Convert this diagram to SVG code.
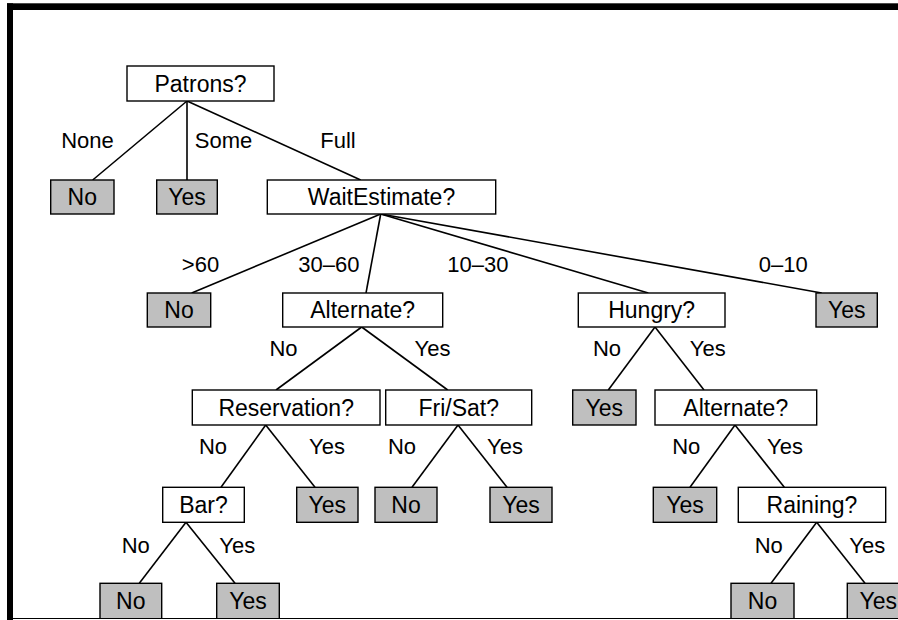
<svg xmlns="http://www.w3.org/2000/svg" width="898" height="620" viewBox="0 0 898 620">
<style>
.box{fill:#ffffff;stroke:#000;stroke-width:1.4}
.leaf{fill:#bfbfbf;stroke:#000;stroke-width:1.4}
.nt{font-family:"Liberation Sans",Arial,sans-serif;font-size:23px;text-anchor:middle;fill:#000}
.lb{font-family:"Liberation Sans",Arial,sans-serif;font-size:22px;text-anchor:middle;fill:#000}
.edges line{stroke:#000;stroke-width:1.6}
</style>
<rect x="0" y="0" width="898" height="620" fill="#ffffff"/>
<g id="frame">
<rect x="7" y="3.3" width="891" height="6.7" fill="#000"/>
<rect x="7" y="3.3" width="6" height="616.7" fill="#000"/>
</g>
<g class="edges" id="connectors">
<line x1="187" y1="101" x2="92.7" y2="180"/>
<line x1="187" y1="101" x2="187" y2="180"/>
<line x1="187" y1="101" x2="360.7" y2="180"/>
<line x1="380.7" y1="214" x2="191.7" y2="293"/>
<line x1="380.7" y1="214" x2="366" y2="293"/>
<line x1="380.7" y1="214" x2="648.3" y2="293"/>
<line x1="380.7" y1="214" x2="821.7" y2="293"/>
<line x1="361.7" y1="327" x2="276" y2="390"/>
<line x1="361.7" y1="327" x2="447.7" y2="390"/>
<line x1="655" y1="327" x2="608.3" y2="390"/>
<line x1="655" y1="327" x2="704" y2="390"/>
<line x1="265.7" y1="425" x2="221" y2="487.3"/>
<line x1="265.7" y1="425" x2="315" y2="487.3"/>
<line x1="458" y1="425" x2="412" y2="487.3"/>
<line x1="458" y1="425" x2="507" y2="487.3"/>
<line x1="735" y1="425" x2="690" y2="487.3"/>
<line x1="735" y1="425" x2="784.3" y2="487.3"/>
<line x1="186" y1="522.3" x2="139.3" y2="583.3"/>
<line x1="186" y1="522.3" x2="235" y2="583.3"/>
<line x1="816.7" y1="522.3" x2="771" y2="583.3"/>
<line x1="816.7" y1="522.3" x2="865" y2="583.3"/>
</g>
<g id="edge-labels">
<text class="lb" x="87.5" y="147.7">None</text>
<text class="lb" x="223.5" y="147.7">Some</text>
<text class="lb" x="338" y="147.7">Full</text>
<text class="lb" x="200.5" y="272.3">&gt;60</text>
<text class="lb" x="328.8" y="272.3">30–60</text>
<text class="lb" x="477.8" y="272.3">10–30</text>
<text class="lb" x="783.3" y="272.3">0–10</text>
<text class="lb" x="283.5" y="356">No</text>
<text class="lb" x="432.5" y="356">Yes</text>
<text class="lb" x="607" y="356">No</text>
<text class="lb" x="707.7" y="356">Yes</text>
<text class="lb" x="213" y="454.3">No</text>
<text class="lb" x="327" y="454.3">Yes</text>
<text class="lb" x="402" y="454.3">No</text>
<text class="lb" x="505" y="454.3">Yes</text>
<text class="lb" x="686.3" y="454.3">No</text>
<text class="lb" x="785" y="454.3">Yes</text>
<text class="lb" x="135.8" y="553.3">No</text>
<text class="lb" x="237.2" y="553.3">Yes</text>
<text class="lb" x="768.8" y="553.3">No</text>
<text class="lb" x="867.2" y="553.3">Yes</text>
</g>
<g id="patrons"><rect class="box" x="127" y="66" width="147" height="35"/><text class="nt" x="200.5" y="92">Patrons?</text></g>
<g id="leaf-none"><rect class="leaf" x="50.7" y="180" width="63.3" height="34"/><text class="nt" x="82.3" y="205">No</text></g>
<g id="leaf-some"><rect class="leaf" x="156.7" y="180" width="60.6" height="34"/><text class="nt" x="187" y="205">Yes</text></g>
<g id="waitestimate"><rect class="box" x="267.3" y="180" width="228.4" height="34"/><text class="nt" x="381.5" y="205">WaitEstimate?</text></g>
<g id="leaf-gt60"><rect class="leaf" x="147.3" y="293" width="63.4" height="34"/><text class="nt" x="179" y="318">No</text></g>
<g id="alternate1"><rect class="box" x="282.7" y="293" width="160" height="34"/><text class="nt" x="362.7" y="318">Alternate?</text></g>
<g id="hungry"><rect class="box" x="578.3" y="293" width="146.7" height="34"/><text class="nt" x="651.7" y="318">Hungry?</text></g>
<g id="leaf-0-10"><rect class="leaf" x="816" y="293" width="61.3" height="34"/><text class="nt" x="846.7" y="318">Yes</text></g>
<g id="reservation"><rect class="box" x="192.3" y="390" width="187.7" height="35"/><text class="nt" x="286.2" y="415.5">Reservation?</text></g>
<g id="frisat"><rect class="box" x="385.7" y="390" width="146" height="35"/><text class="nt" x="458.7" y="415.5">Fri/Sat?</text></g>
<g id="leaf-hungry-no"><rect class="leaf" x="572.7" y="390" width="63.3" height="35"/><text class="nt" x="604.3" y="415.5">Yes</text></g>
<g id="alternate2"><rect class="box" x="655" y="390" width="161.7" height="35"/><text class="nt" x="735.8" y="415.5">Alternate?</text></g>
<g id="bar"><rect class="box" x="162.7" y="487.3" width="81.6" height="35"/><text class="nt" x="203.5" y="512.5">Bar?</text></g>
<g id="leaf-res-yes"><rect class="leaf" x="296.7" y="487.3" width="61.3" height="35"/><text class="nt" x="327.3" y="512.5">Yes</text></g>
<g id="leaf-fri-no"><rect class="leaf" x="375" y="487.3" width="62" height="35"/><text class="nt" x="406" y="512.5">No</text></g>
<g id="leaf-fri-yes"><rect class="leaf" x="490" y="487.3" width="62" height="35"/><text class="nt" x="521" y="512.5">Yes</text></g>
<g id="leaf-alt2-no"><rect class="leaf" x="653.3" y="487.3" width="63.4" height="35"/><text class="nt" x="685" y="512.5">Yes</text></g>
<g id="raining"><rect class="box" x="738.3" y="487.3" width="147.4" height="35"/><text class="nt" x="812" y="512.5">Raining?</text></g>
<g id="leaf-bar-no"><rect class="leaf" x="100" y="583.3" width="61.7" height="36"/><text class="nt" x="130.8" y="608.5">No</text></g>
<g id="leaf-bar-yes"><rect class="leaf" x="216.7" y="583.3" width="62.6" height="36"/><text class="nt" x="248" y="608.5">Yes</text></g>
<g id="leaf-rain-no"><rect class="leaf" x="731" y="583.3" width="63" height="36"/><text class="nt" x="762.5" y="608.5">No</text></g>
<g id="leaf-rain-yes"><rect class="leaf" x="847.3" y="583.3" width="62" height="36"/><text class="nt" x="878.3" y="608.5">Yes</text></g>
<g id="bottom-edge"><rect x="13" y="618" width="885" height="2" fill="#ffffff"/><line x1="13" y1="618.5" x2="898" y2="618.5" stroke="#000" stroke-width="1.2"/></g>
</svg>
